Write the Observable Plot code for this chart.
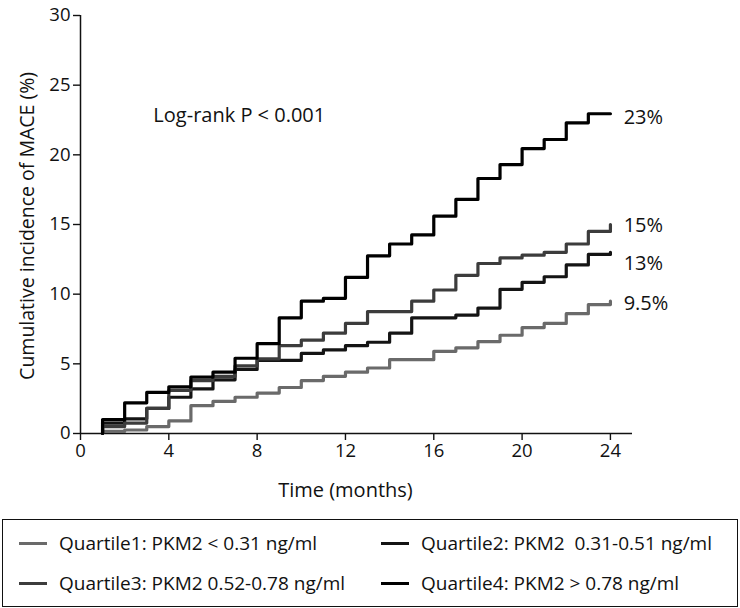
<!DOCTYPE html>
<html><head><meta charset="utf-8">
<script src="https://cdn.jsdelivr.net/npm/d3@7"></script>
<script src="https://cdn.jsdelivr.net/npm/@observablehq/plot@0.6"></script>
<style>
body{margin:0;background:#fff;font-family:"Open Sans",sans-serif;color:#111;}
#chart svg{display:block;}
#legend{box-sizing:border-box;margin:9px 2px 0 2px;width:736px;height:88px;border:1.5px solid #111;
  display:grid;grid-template-columns:362px 1fr;grid-template-rows:1fr 1fr;padding:3px 0 3px 0;font-size:19px;}
.item{display:flex;align-items:center;white-space:pre;}
.sw{display:inline-block;width:28px;height:3px;margin:0 12px 0 16px;}
</style></head><body><div id="chart"></div><div id="legend"></div>
<script>
const months = [1,2,3,4,5,6,7,8,9,10,11,12,13,14,15,16,17,18,19,20,21,22,23,24];
const q1 = [0.15,0.25,0.5,0.9,2.0,2.3,2.6,2.9,3.3,3.8,4.1,4.4,4.7,5.3,5.3,5.9,6.15,6.6,7.05,7.6,7.9,8.6,9.25,9.5];
const q2 = [0.75,1.05,1.8,2.6,3.2,3.85,4.6,5.25,5.25,5.75,6.0,6.3,6.55,7.2,8.3,8.3,8.5,9.0,10.35,10.85,11.25,12.1,12.85,13.0];
const q3 = [0.5,0.75,1.8,3.1,3.8,4.1,4.85,5.35,6.3,6.7,7.2,7.9,8.75,8.75,9.5,10.3,11.35,12.2,12.6,12.8,13.0,13.6,14.5,15.0];
const q4 = [1.0,2.2,2.95,3.35,4.05,4.4,5.4,6.45,8.3,9.5,9.7,11.2,12.75,13.6,14.25,15.6,16.8,18.3,19.3,20.45,21.1,22.3,22.95,22.95];
const seriesNames = ["Quartile1: PKM2 < 0.31 ng/ml","Quartile2: PKM2  0.31-0.51 ng/ml","Quartile3: PKM2 0.52-0.78 ng/ml","Quartile4: PKM2 > 0.78 ng/ml"];
const seriesColors = ["#6a6a6a","#141414","#3c3c3c","#000000"];
const endLabels = ["9.5%","13%","15%","23%"];
const endLabelY = [9.3,12.2,14.9,22.7];
const xTicks = [0,4,8,12,16,20,24];
const yTicks = [0,5,10,15,20,25,30];
const annotation = "Log-rank P < 0.001";

const allSeries = [q1,q2,q3,q4];
const data = [];
allSeries.forEach((vals,i)=>{
  data.push({t:months[0], v:0, s:seriesNames[i]});
  vals.forEach((v,j)=>data.push({t:months[j], v, s:seriesNames[i]}));
});
const labels = endLabels.map((l,i)=>({t:24.6, v:endLabelY[i], l}));
const font = "'Open Sans', sans-serif";

const chart = Plot.plot({
  width:740, height:510,
  marginLeft:80, marginRight:108, marginTop:15, marginBottom:77,
  style:{fontFamily:font, fontSize:"18px", color:"#111", background:"#fff"},
  x:{domain:[0,25]},
  y:{domain:[0,30]},
  color:{domain:seriesNames, range:seriesColors},
  marks:[
    Plot.axisX({ticks:xTicks, tickSize:7, tickPadding:3, fontSize:18.5, label:null, strokeWidth:1.4}),
    Plot.axisY({ticks:yTicks, tickSize:7, tickPadding:3, fontSize:18.5, label:null, strokeWidth:1.4}),
    Plot.ruleX([0],{y1:0,y2:30,stroke:"#111",strokeWidth:1.5}),
    Plot.ruleY([0],{x1:0,x2:25,stroke:"#111",strokeWidth:1.5}),
    Plot.line(data,{x:"t",y:"v",z:"s",stroke:"s",curve:"step-after",strokeWidth:3.2}),
    Plot.text(labels,{x:"t",y:"v",text:"l",textAnchor:"start",fontSize:20,fill:"#111"}),
    Plot.text([{t:3.3,v:22.8}],{x:"t",y:"v",text:()=>annotation,textAnchor:"start",fontSize:20,fill:"#111"}),
    Plot.text([{t:12}],{x:"t",frameAnchor:"bottom",dy:63,text:()=>"Time (months)",fontSize:20,fill:"#111"}),
    Plot.text([{v:14.9}],{y:"v",frameAnchor:"left",textAnchor:"middle",dx:-53,rotate:-90,text:()=>"Cumulative incidence of MACE (%)",fontSize:19.5,fill:"#111"})
  ]
});
document.getElementById("chart").appendChild(chart);

const legend = document.getElementById("legend");
[0,1,2,3].forEach(i=>{
  const d = document.createElement("div");
  d.className="item";
  const sw = document.createElement("span");
  sw.className="sw"; sw.style.background=seriesColors[i];
  d.appendChild(sw);
  d.appendChild(document.createTextNode(seriesNames[i]));
  legend.appendChild(d);
});
</script></body></html>
